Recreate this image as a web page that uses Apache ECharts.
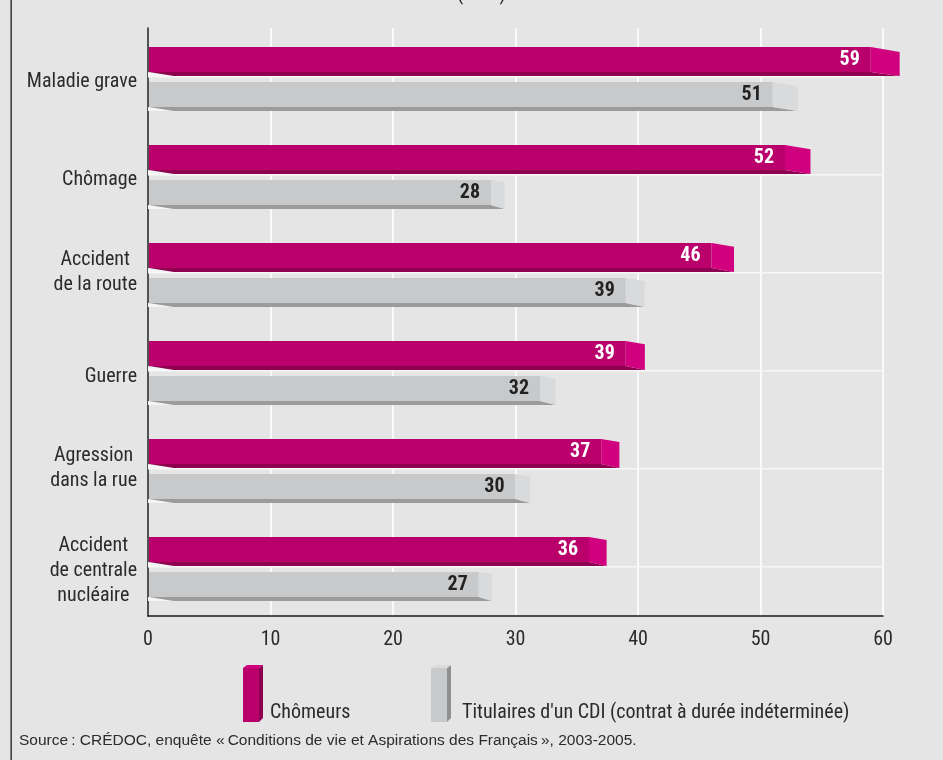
<!DOCTYPE html>
<html><head><meta charset="utf-8">
<script src="https://cdn.jsdelivr.net/npm/echarts@6/dist/echarts.min.js"></script>
<style>html,body{margin:0;padding:0;background:#e5e5e5;}#c{width:943px;height:760px;}</style>
</head><body><div id="c"></div>
<script>
var categories = ['Maladie grave', 'Chômage', 'Accident\nde la route', 'Guerre', 'Agression\ndans la rue', 'Accident\nde centrale\nnucléaire'];
var chomeurs = [59, 52, 46, 39, 37, 36];
var cdi = [51, 28, 39, 32, 30, 27];
var xTicks = [0, 10, 20, 30, 40, 50, 60];
var seriesNames = ['Chômeurs', "Titulaires d'un CDI (contrat à durée indéterminée)"];

// vertical nudges of the category labels (px, + = down), styling only
var labelShift = [5, 5, -1, 6, -1, 4];

var NARROW = "'Liberation Sans Narrow','Arial Narrow','Roboto Condensed','DejaVu Sans Condensed',sans-serif";
var TXT = '#2b2b2b';

function makeRender(col, offRatio, labelColor, drawFloor) {
  return function (params, api) {
    var cat = api.value(1), v = api.value(0);
    var p0 = api.coord([0, cat]);
    var p1 = api.coord([v, cat]);
    var bandH = api.size([0, 1])[1];
    var top = p0[1] - bandH / 2 + offRatio * bandH;
    var h = 25 / 98 * bandH;
    var s = 4;
    var x0 = p0[0], xv = p1[0];
    var d = (xv - x0) * 0.04;
    var dt = d * 0.17;
    var cs = params.coordSys;
    var children = [];
    if (drawFloor) {
      children.push({type: 'rect', shape: {x: cs.x, y: top + h + s, width: cs.width, height: 1.5}, style: {fill: '#f7f7f7'}});
    }
    children.push({type: 'polygon', shape: {points: [[x0, top + h], [x0 + 26, top + h + s], [x0, top + h + s]]}, style: {fill: '#f4f4f4'}});
    children.push({type: 'polygon', shape: {points: [[x0 + 1, top + h], [xv, top + h], [xv + d, top + h + s], [x0 + 26, top + h + s]]}, style: {fill: col.strip}});
    children.push({type: 'rect', shape: {x: x0 + 1, y: top, width: xv - x0 - 1, height: h}, style: {fill: col.face}});
    children.push({type: 'polygon', shape: {points: [[xv, top], [xv + d, top + dt], [xv + d, top + h + s], [xv, top + h]]}, style: {fill: col.cap}});
    children.push({type: 'text', style: {text: String(v), x: xv - 11, y: top + h / 2 + 0.5, align: 'right', verticalAlign: 'middle', fill: labelColor, font: 'bold 20px ' + NARROW}});
    return {type: 'group', children: children};
  };
}

var magData = chomeurs.map(function (v, i) { return [v, i]; });
var grayData = cdi.map(function (v, i) { return [v, i]; });
var catItems = categories.map(function (c, i) {
  var k = labelShift[i];
  return {value: c, textStyle: {padding: k >= 0 ? [2 * k, 0, 0, 0] : [0, 0, -2 * k, 0]}};
});

var chart = echarts.init(document.getElementById('c'), null, {renderer: 'canvas'});
chart.setOption({
  backgroundColor: '#e5e5e5',
  animation: false,
  grid: {left: 148, right: 60, top: 28, bottom: 144, containLabel: false},
  xAxis: {
    type: 'value', min: 0, max: 60, interval: 10,
    axisLine: {show: true, lineStyle: {color: '#1a1a1a', width: 1.5}},
    axisTick: {show: false},
    splitLine: {show: true, lineStyle: {color: '#ffffff', width: 1.5}},
    axisLabel: {margin: 14, color: TXT, fontSize: 20, fontFamily: NARROW,
      formatter: function (v) { return xTicks.indexOf(v) >= 0 ? String(v) : ''; }}
  },
  yAxis: {
    type: 'category', data: catItems, inverse: true,
    axisLine: {show: true, lineStyle: {color: '#1a1a1a', width: 1.5}},
    axisTick: {show: false},
    splitLine: {show: false},
    axisLabel: {margin: 11, color: TXT, fontSize: 20, fontFamily: NARROW, lineHeight: 25,
      formatter: function (v) { return v.split('\n').map(function (l) { return '{c|' + l + '}'; }).join('\n'); },
      rich: {c: {align: 'center', color: TXT, fontSize: 20, fontFamily: NARROW, lineHeight: 25}}}
  },
  series: [
    {name: seriesNames[0], type: 'custom', clip: false, encode: {x: 0, y: 1}, data: magData, z: 3,
      renderItem: makeRender({face: '#b9006b', strip: '#8e0050', cap: '#d1007f'}, 19 / 98, '#ffffff', true)},
    {name: seriesNames[1], type: 'custom', clip: false, encode: {x: 0, y: 1}, data: grayData, z: 3,
      renderItem: makeRender({face: '#c8c9cb', strip: '#9b9b9b', cap: '#d9dadc'}, 54 / 98, '#222222', false)}
  ],
  graphic: [
    {type: 'rect', shape: {x: 10.5, y: 0, width: 1.3, height: 760}, style: {fill: '#1a1a1a'}, silent: true},
    {type: 'text', left: 457, top: -15, style: {text: '(en %)', font: '20px ' + NARROW, fill: TXT}},
    {type: 'group', left: 243, top: 665, children: [
      {type: 'polygon', shape: {points: [[0, 3], [16, 3], [16, 57], [0, 57]]}, style: {fill: '#b9006b'}},
      {type: 'polygon', shape: {points: [[16, 3], [20, 0], [20, 53], [16, 57]]}, style: {fill: '#8e0050'}},
      {type: 'polygon', shape: {points: [[0, 3], [4, 0], [20, 0], [16, 3]]}, style: {fill: '#d1007f'}}
    ]},
    {type: 'text', left: 270, top: 703, style: {text: seriesNames[0], font: '20px ' + NARROW, fill: TXT}},
    {type: 'group', left: 431, top: 665, children: [
      {type: 'polygon', shape: {points: [[0, 3], [16, 3], [16, 57], [0, 57]]}, style: {fill: '#c8c9cb'}},
      {type: 'polygon', shape: {points: [[16, 3], [20, 0], [20, 53], [16, 57]]}, style: {fill: '#8f8f8f'}},
      {type: 'polygon', shape: {points: [[0, 3], [4, 0], [20, 0], [16, 3]]}, style: {fill: '#dcdcdc'}}
    ]},
    {type: 'text', left: 462, top: 703, style: {text: seriesNames[1], font: '20px ' + NARROW, fill: TXT}},
    {type: 'text', left: 19, top: 733, style: {text: 'Source\u202F: CRÉDOC, enquête «\u202FConditions de vie et Aspirations des Français\u202F», 2003-2005.', font: '15.5px "Liberation Sans", Arial, sans-serif', fill: TXT}}
  ]
});
</script>
</body></html>
